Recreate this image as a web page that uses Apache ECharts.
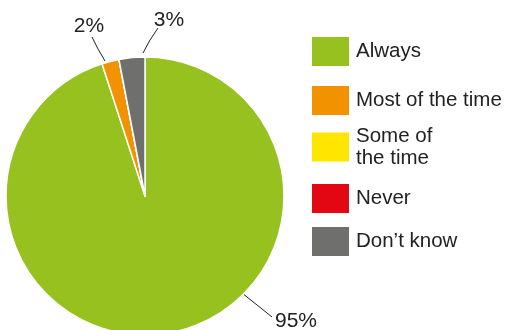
<!DOCTYPE html>
<html><head><meta charset="utf-8">
<script src="https://cdn.jsdelivr.net/npm/echarts@6/dist/echarts.min.js"></script>
<style>html,body{margin:0;padding:0;background:#fff}#c{width:514px;height:330px}</style>
</head><body><div id="c"></div>
<script>
const categories = ["Always", "Most of the time", "Some of\nthe time", "Never", "Don\u2019t know"];
const values = [95, 2, 0, 0, 3];
const colors = ["#97C11F", "#F39200", "#FFE600", "#E30613", "#6F6F6E"];

const chart = echarts.init(document.getElementById('c'), null, {renderer: 'canvas'});
const FONT = 'Liberation Sans, Arial, sans-serif';
const legendTops = [37, 86, 125, 184, 227];
const legends = categories.map((c, i) => ({
  data: [c], left: 312, top: legendTops[i], orient: 'vertical', padding: 0,
  itemWidth: 37, itemHeight: 29, itemGap: 0, icon: 'rect',
  itemStyle: {borderWidth: 0},
  textStyle: {fontFamily: FONT, fontSize: 20.5, color: '#222', lineHeight: 22, padding: [0, 0, 0, 2]}
}));
const labelSpots = {
  0: {x: 275, y: 321, line: [[242, 293], [257, 305], [272, 317]]},
  1: {x: 89, y: 26, align: 'center', line: [[105, 61], [98, 49], [92, 37]]},
  4: {x: 169, y: 20, align: 'center', line: [[143, 53], [150, 40], [158, 28]]}
};
chart.setOption({
  animation: false,
  color: colors,
  legend: legends,
  series: [{
    type: 'pie', center: [145, 196], radius: 139, startAngle: 90, clockwise: true,
    stillShowZeroSum: false,
    itemStyle: {borderColor: '#fff', borderWidth: 1.5},
    label: {show: true, formatter: '{c}%', fontFamily: FONT, fontSize: 21, color: '#222', overflow: 'none', width: 60},
    labelLine: {show: true, lineStyle: {color: '#222', width: 1}},
    labelLayout: function (p) {
      const s = labelSpots[p.dataIndex];
      if (!s) return {};
      return {x: s.x, y: s.y, align: s.align || 'left', verticalAlign: 'middle', labelLinePoints: s.line};
    },
    data: categories.map((c, i) => ({
      name: c, value: values[i],
      label: {show: values[i] > 0}, labelLine: {show: values[i] > 0}
    }))
  }]
});
</script></body></html>
